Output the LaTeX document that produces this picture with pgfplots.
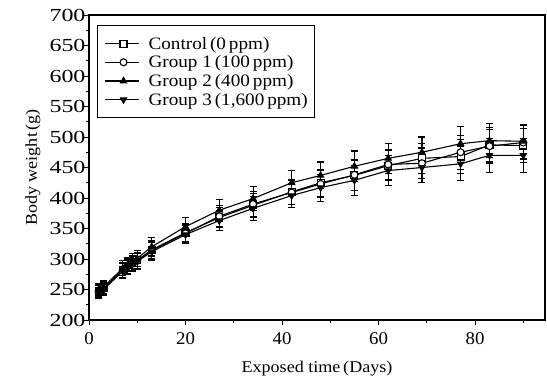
\documentclass[border=0pt]{standalone}
\usepackage{fontspec}
\setmainfont{Liberation Serif}[FakeStretch=1.1]
\newfontfamily\ytickfont{Liberation Serif}[FakeStretch=1.3]
\newfontfamily\xtickfont{Liberation Serif}[FakeStretch=1.05]
\usepackage{pgfplots}
\pgfplotsset{compat=1.18}
\begin{document}
\begin{tikzpicture}
\useasboundingbox (-89bp,-58bp) rectangle (458bp,320bp);
\begin{axis}[
 at={(0,0)}, anchor=south west,
 scale only axis, width=456bp, height=305bp,
 xmin=0, xmax=94.5, ymin=200, ymax=700,
 xtick={0,20,...,80}, minor xtick={10,30,50,70,90},
 ytick={200,250,...,700}, minor ytick={225,275,...,675},
 tick align=outside, xtick pos=bottom, ytick pos=left,
 major tick length=5bp, minor tick length=3bp,
 tick style={line width=0.9bp, black},
 axis line style={line width=1.1bp},
 yticklabel style={font=\ytickfont\fontsize{18.5}{18.5}\selectfont, xshift=5bp},
 xticklabel style={font=\xtickfont\fontsize{18}{18}\selectfont, yshift=-4bp},
 /pgf/number format/assume math mode=true,
 /pgf/number format/set thousands separator={},
 xlabel={Exposed time\,(Days)}, ylabel={Body weight\,(g)},
 label style={font=\fontsize{16.5}{16.5}\selectfont},
 xlabel style={at={(axis description cs:0.5,0)}, yshift=-52bp, anchor=base},
 ylabel style={at={(axis description cs:0,0.5)}, yshift=52bp, anchor=base},
 legend style={at={(rel axis cs:0.0175,0.967)}, anchor=north west, draw=black, line width=1bp,
   font=\fontsize{17.5}{17.5}\selectfont, inner sep=7bp, row sep=-3.3bp, column sep=9bp,
   nodes={inner sep=0pt, text height=16.5bp, text depth=5.5bp}},
 legend cell align=left,
 every axis plot post/.append style={legend image code/.code={%
   \path (0bp,0bp) -- (34bp,0bp);
   \draw[mark repeat=2,mark phase=2,##1] plot coordinates {(4bp,0bp) (18.5bp,0bp) (33bp,0bp)};}},
 error bars/y dir=both, error bars/y explicit,
 error bars/error bar style={line width=1.1bp},
 error bars/error mark options={rotate=90, mark size=3.5bp, line width=1.1bp},
]
% Control (0 ppm)
\addplot[black, line width=1.1bp, mark size=3.5bp, mark=square*, mark options={fill=white, solid}] coordinates {
(2,248) +- (0,10) (3,252) +- (0,10) (7,282) +- (0,12) (8,287) +- (0,12) (9,293) +- (0,12) (10,298) +- (0,13)
(13,315) +- (0,15) (20,343) +- (0,15) (27,368) +- (0,17) (34,388) +- (0,20) (42,410) +- (0,20) (48,425) +- (0,22)
(55,437) +- (0,25) (62,453) +- (0,25) (69,465) +- (0,25) (77,468) +- (0,28) (83,487) +- (0,28) (90,486) +- (0,28)};
% Group 1 (100 ppm)
\addplot[black, line width=1.1bp, mark size=3.5bp, mark=*, mark options={fill=white, solid}] coordinates {
(2,247) +- (0,10) (3,251) +- (0,10) (7,281) +- (0,12) (8,288) +- (0,12) (9,294) +- (0,12) (10,297) +- (0,13)
(13,314) +- (0,15) (20,342) +- (0,15) (27,370) +- (0,17) (34,390) +- (0,20) (42,409) +- (0,20) (48,423) +- (0,22)
(55,438) +- (0,25) (62,455) +- (0,25) (69,457) +- (0,25) (77,475) +- (0,28) (83,485) +- (0,28) (90,491) +- (0,28)};
% Group 2 (400 ppm)
\addplot[black, line width=1.1bp, mark size=3.5bp, mark=triangle*, mark options={fill=black, solid}] coordinates {
(2,250) +- (0,10) (3,254) +- (0,10) (7,285) +- (0,12) (8,291) +- (0,12) (9,297) +- (0,12) (10,301) +- (0,13)
(13,320) +- (0,15) (20,353) +- (0,15) (27,380) +- (0,17) (34,399) +- (0,20) (42,425) +- (0,20) (48,437) +- (0,22)
(55,452) +- (0,25) (62,465) +- (0,25) (69,475) +- (0,25) (77,489) +- (0,28) (83,494) +- (0,28) (90,493) +- (0,28)};
% Group 3 (1,600 ppm)
\addplot[black, line width=1.1bp, mark size=3.5bp, mark=triangle*, mark options={fill=black, solid, rotate=180}] coordinates {
(2,246) +- (0,10) (3,250) +- (0,10) (7,280) +- (0,12) (8,286) +- (0,12) (9,291) +- (0,12) (10,296) +- (0,13)
(13,312) +- (0,15) (20,340) +- (0,15) (27,363) +- (0,17) (34,383) +- (0,20) (42,404) +- (0,20) (48,417) +- (0,22)
(55,429) +- (0,25) (62,445) +- (0,25) (69,450) +- (0,25) (77,456) +- (0,28) (83,470) +- (0,28) (90,470) +- (0,28)};
\legend{{Control\,(0\,ppm)}, {Group 1\,(100\,ppm)}, {Group 2\,(400\,ppm)}, {Group 3\,(1{,}600\,ppm)}}
\end{axis}
\end{tikzpicture}
\end{document}
